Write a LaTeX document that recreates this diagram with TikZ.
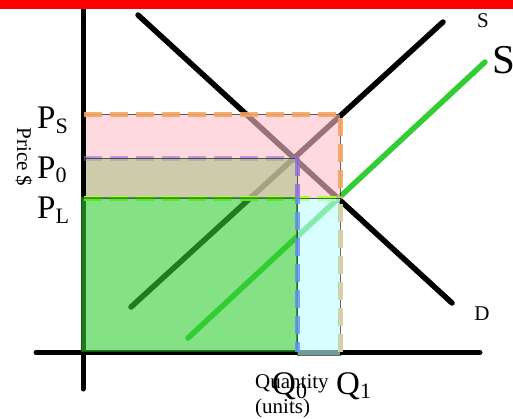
\documentclass[tikz,border=0pt]{standalone}
\usepackage{fontspec}
\setmainfont{Liberation Serif}
\definecolor{pinkc}{RGB}{255,192,203}
\definecolor{khakic}{RGB}{170,195,137}
\definecolor{limec}{RGB}{50,205,50}
\definecolor{cyanc}{RGB}{190,255,255}
\definecolor{orangec}{RGB}{244,164,96}
\definecolor{purplec}{RGB}{147,112,219}
\definecolor{ygreenc}{RGB}{173,255,47}
\definecolor{bluec}{RGB}{100,149,237}
\definecolor{khakidash}{RGB}{210,210,170}
\definecolor{edgegreen}{RGB}{30,120,30}
\begin{document}
\begin{tikzpicture}[x=1pt,y=-1pt,
  axisline/.style={line width=5pt,line cap=round},
  curveline/.style={line width=5.5pt,line cap=round},
  guide/.style={line width=5pt,dash pattern=on 18pt off 8pt},
  area/.style={fill opacity=0.6,draw opacity=0.6,draw=black,line width=0.8pt},
  lab/.style={inner sep=0pt,font=\fontsize{21}{24}\selectfont},
  big/.style={inner sep=0pt,font=\fontsize{33}{38}\selectfont,anchor=base west}]
\useasboundingbox (0,0) rectangle (513,418);
% coordinates
\coordinate (yt) at (83,5);
\coordinate (yb) at (83,389);
\coordinate (xl) at (36,352.5);
\coordinate (xr) at (480,352.5);
\coordinate (d1) at (138,15);
\coordinate (d2) at (452,303);
\coordinate (s1) at (131,307);
\coordinate (s2) at (443,22);
\coordinate (g1) at (188,338);
\coordinate (g2) at (485,62);
% axes and curves
\draw[axisline] (yt) -- (yb);
\draw[axisline] (xl) -- (xr);
\draw[curveline] (d1) -- (d2);
\draw[curveline] (s1) -- (s2);
\draw[curveline,limec] (g1) -- (g2);
% areas
\coordinate (pinkA) at (85.5,114);
\coordinate (pinkB) at (340,198);
\draw[area,fill=pinkc] (pinkA) rectangle (pinkB);
\coordinate (p0l) at (84,158);
\coordinate (p0r) at (297,158);
\draw[guide,purplec,opacity=0.6] (p0l) -- (p0r);
\coordinate (khA) at (85.5,158);
\coordinate (khB) at (297,198);
\draw[area,fill=khakic] (khA) rectangle (khB);
\coordinate (pll) at (84,198);
\coordinate (plr) at (340,198);
\draw[guide,ygreenc] (pll) -- (plr);
\coordinate (grA) at (82,198);
\coordinate (grB) at (297,351);
\draw[fill opacity=0.6,draw opacity=0.7,draw=edgegreen,line width=1.5pt,fill=limec] (grA) rectangle (grB);
\coordinate (cyA) at (297,198);
\coordinate (cyB) at (340,355);
\draw[area,fill=cyanc] (cyA) rectangle (cyB);
% guide lines on top
\coordinate (psl) at (84,114);
\coordinate (psr) at (340,114);
\coordinate (q1m) at (340,198);
\coordinate (q1b) at (340,352);
\draw[guide,orangec,opacity=0.9] (psl) -- (psr) -- (q1m);
\draw[guide,khakidash,dash phase=-6pt] (q1m) -- (q1b);
\coordinate (q0t) at (297,158);
\coordinate (q0m) at (297,198);
\coordinate (q0b) at (297,352);
\draw[guide,purplec,opacity=0.85] (q0t) -- (q0m);
\draw[guide,bluec,opacity=0.85,dash phase=-14pt] (q0m) -- (q0b);
% top bar
\fill[red] (0,0) rectangle (513,9.3);
% labels
\node[lab] (sS) at (483,21) {S};
\node[inner sep=0pt,font=\fontsize{41}{46}\selectfont,anchor=west] (sBig) at (492,60) {S};
\node[lab] (dD) at (482,314) {D};
\node[big] (ps) at (37,128) {P\raisebox{-5pt}{\fontsize{22}{24}\selectfont S}};
\node[big] (p0) at (37,178) {P\raisebox{-4pt}{\fontsize{22}{24}\selectfont 0}};
\node[big] (pl) at (37,218) {P\raisebox{-5pt}{\fontsize{22}{24}\selectfont L}};
\node[lab,rotate=-90] (price) at (24,157) {Price \$};
\node[big] (q0) at (272,394) {Q\raisebox{-4pt}{\fontsize{22}{24}\selectfont 0}};
\node[big] (q1) at (336,394) {Q\raisebox{-4pt}{\fontsize{22}{24}\selectfont 1}};
\node[lab,anchor=base west] (qty) at (255,388) {Quantity};
\node[lab,anchor=base west] (units) at (255,413) {(units)};
\end{tikzpicture}
\end{document}
